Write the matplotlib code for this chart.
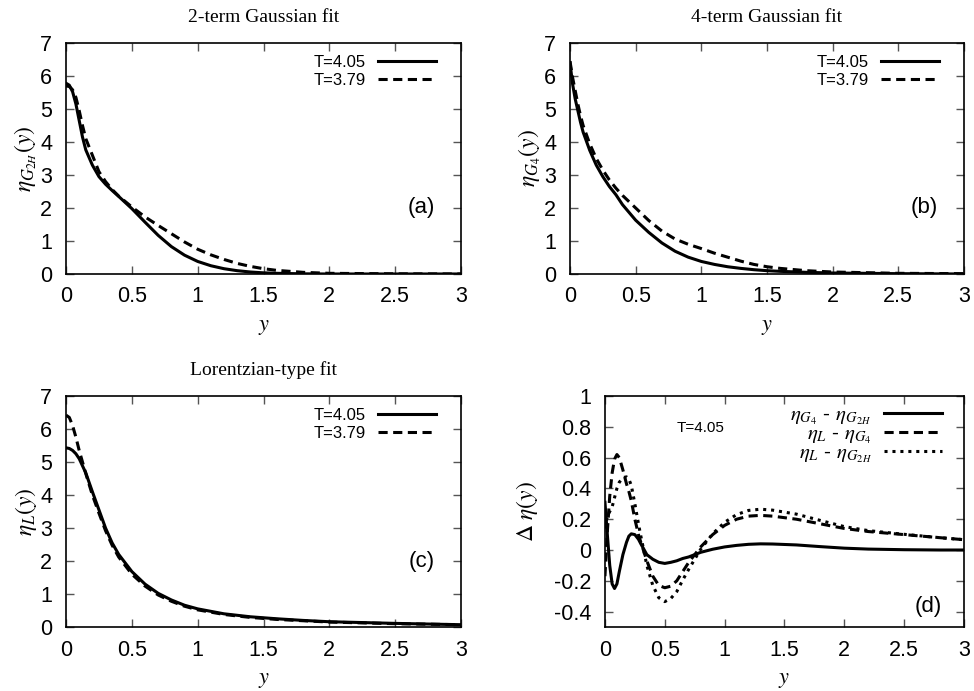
import matplotlib
matplotlib.use("Agg")
import matplotlib.pyplot as plt

plt.rcParams['font.family'] = ['Liberation Sans', 'DejaVu Sans']
plt.rcParams['mathtext.fontset'] = 'stix'
plt.rcParams['axes.unicode_minus'] = False

# x ticks shared by all panels
xticks = [0, 0.5, 1, 1.5, 2, 2.5, 3]
xticklabels = ['0', '0.5', '1', '1.5', '2', '2.5', '3']
eta_ticks = [0, 1, 2, 3, 4, 5, 6, 7]
d_ticks = [-0.4, -0.2, 0, 0.2, 0.4, 0.6, 0.8, 1]
d_ticklabels = ['-0.4', '-0.2', '0', '0.2', '0.4', '0.6', '0.8', '1']

# (a) 2-term Gaussian fit
x_a = [0, 0.025, 0.05, 0.075, 0.1, 0.125, 0.15, 0.2, 0.25, 0.3, 0.35, 0.4, 0.5, 0.6,
       0.7, 0.8, 0.9, 1.0, 1.1, 1.2, 1.3, 1.4, 1.5, 1.6, 1.8, 2.0, 2.5, 3.0]
a_405 = [5.78, 5.72, 5.52, 5.15, 4.65, 4.15, 3.76, 3.3, 2.95, 2.72, 2.53, 2.35, 1.98, 1.57,
         1.17, 0.83, 0.57, 0.38, 0.25, 0.16, 0.1, 0.06, 0.035, 0.02, 0.005, 0, 0, 0]
a_379 = [5.7, 5.68, 5.58, 5.35, 4.95, 4.5, 4.1, 3.6, 3.1, 2.8, 2.56, 2.36, 2.03, 1.73,
         1.47, 1.22, 0.97, 0.75, 0.58, 0.44, 0.32, 0.23, 0.16, 0.11, 0.05, 0.02, 0.005, 0]

# (b) 4-term Gaussian fit
x_b = [0, 0.02, 0.04, 0.06, 0.08, 0.1, 0.15, 0.2, 0.25, 0.3, 0.35, 0.4, 0.5, 0.6,
       0.7, 0.8, 0.9, 1.0, 1.1, 1.2, 1.3, 1.4, 1.5, 1.6, 1.8, 2.0, 2.5, 3.0]
b_405 = [6.4, 5.75, 5.3, 4.95, 4.6, 4.3, 3.75, 3.3, 2.95, 2.65, 2.4, 2.1, 1.63, 1.26,
         0.94, 0.69, 0.51, 0.38, 0.29, 0.22, 0.17, 0.13, 0.1, 0.08, 0.05, 0.03, 0.01, 0.0]
b_379 = [6.45, 5.95, 5.55, 5.15, 4.8, 4.5, 3.95, 3.5, 3.15, 2.85, 2.6, 2.38, 2.0, 1.62,
         1.3, 1.06, 0.9, 0.77, 0.63, 0.51, 0.39, 0.29, 0.22, 0.17, 0.1, 0.06, 0.02, 0.01]

# (c) Lorentzian-type fit
x_c = [0, 0.025, 0.05, 0.075, 0.1, 0.15, 0.2, 0.25, 0.3, 0.35, 0.4, 0.5, 0.6, 0.7,
       0.8, 0.9, 1.0, 1.2, 1.4, 1.6, 1.8, 2.0, 2.5, 3.0]
c_405 = [5.43, 5.41, 5.35, 5.25, 5.1, 4.67, 4.1, 3.55, 3.0, 2.55, 2.2, 1.68, 1.3, 1.02,
         0.82, 0.66, 0.55, 0.4, 0.31, 0.25, 0.2, 0.16, 0.11, 0.07]
c_379 = [6.42, 6.35, 6.1, 5.75, 5.35, 4.65, 4.0, 3.45, 2.92, 2.48, 2.12, 1.6, 1.24, 0.97,
         0.78, 0.63, 0.52, 0.38, 0.29, 0.23, 0.19, 0.15, 0.1, 0.07]

# (d) differences at T=4.05
x_d = [0, 0.02, 0.04, 0.06, 0.08, 0.1, 0.12, 0.15, 0.18, 0.2, 0.22, 0.25, 0.28, 0.3,
       0.35, 0.4, 0.45, 0.5, 0.55, 0.6, 0.65, 0.7, 0.75, 0.8, 0.9, 1.0, 1.1, 1.2, 1.3,
       1.4, 1.6, 1.8, 2.0, 2.2, 2.5, 2.8, 3.0]
d_g4_g2h = [0.31, 0.1, -0.1, -0.22, -0.25, -0.22, -0.14, -0.03, 0.05, 0.09, 0.105, 0.1, 0.07, 0.04,
            -0.03, -0.06, -0.08, -0.087, -0.08, -0.07, -0.055, -0.045, -0.03, -0.015, 0.005, 0.02, 0.03, 0.037, 0.04,
            0.039, 0.033, 0.022, 0.012, 0.006, 0.002, 0.0, 0.0]
d_l_g4 = [-0.17, 0.12, 0.35, 0.5, 0.59, 0.62, 0.6, 0.52, 0.43, 0.38, 0.32, 0.2, 0.1, 0.05,
          -0.07, -0.17, -0.23, -0.245, -0.235, -0.2, -0.14, -0.08, -0.03, 0.02, 0.1, 0.16, 0.2, 0.22, 0.225,
          0.22, 0.2, 0.17, 0.14, 0.12, 0.1, 0.08, 0.067]
d_l_g2h = [0.14, 0.22, 0.25, 0.28, 0.34, 0.4, 0.44, 0.47, 0.475, 0.46, 0.42, 0.3, 0.17, 0.09,
           -0.1, -0.23, -0.31, -0.335, -0.315, -0.27, -0.195, -0.125, -0.06, 0.005, 0.105, 0.18, 0.23, 0.257, 0.265,
           0.259, 0.233, 0.192, 0.152, 0.126, 0.102, 0.08, 0.067]

LW = 2.2
DASH = (0, (3, 1.8))
DOT = (0, (1, 1.6))
serif = ['Liberation Serif', 'DejaVu Serif']


def style_axes(ax, yticks, yticklabels=None):
    ax.set_xlim(0, 3)
    ax.set_xticks(xticks)
    ax.set_xticklabels(xticklabels)
    ax.set_yticks(yticks)
    if yticklabels is not None:
        ax.set_yticklabels(yticklabels)
    ax.tick_params(direction='in', top=True, right=True, length=6, width=1,
                   color='#555555', labelsize=15.5)
    ax.tick_params(axis='x', pad=9)
    ax.tick_params(axis='y', pad=10)
    for s in ax.spines.values():
        s.set_linewidth(1.2)
    ax.set_xlabel('$y$', fontsize=16, labelpad=6)


def add_legend(ax):
    return ax.legend(loc='upper right', bbox_to_anchor=(0.966, 1.0), frameon=False,
                     markerfirst=False, fontsize=12, handlelength=3.5, handletextpad=0.7,
                     labelspacing=0.2, borderaxespad=0.4, borderpad=0.3)


fig = plt.figure(figsize=(9.74, 6.91), dpi=100)

ax_a = fig.add_axes([0.0678, 0.6035, 0.4055, 0.3343])
ax_a.plot(x_a, a_405, 'k-', lw=LW, label='T=4.05')
ax_a.plot(x_a, a_379, color='k', ls=DASH, lw=LW, label='T=3.79')
ax_a.set_ylim(0, 7)
style_axes(ax_a, eta_ticks)
ax_a.set_ylabel(r'$\eta_{G_{2H}}(y)$', fontsize=17, labelpad=1)
ax_a.set_title('2-term Gaussian fit', family=serif, fontsize=14, pad=15)
ax_a.text(2.7, 2, '(a)', fontsize=16, ha='center', va='center')
add_legend(ax_a)

ax_b = fig.add_axes([0.5852, 0.6035, 0.4045, 0.3343])
ax_b.plot(x_b, b_405, 'k-', lw=LW, label='T=4.05')
ax_b.plot(x_b, b_379, color='k', ls=DASH, lw=LW, label='T=3.79')
ax_b.set_ylim(0, 7)
style_axes(ax_b, eta_ticks)
ax_b.set_ylabel(r'$\eta_{G_4}(y)$', fontsize=17, labelpad=1)
ax_b.set_title('4-term Gaussian fit', family=serif, fontsize=14, pad=15)
ax_b.text(2.7, 2, '(b)', fontsize=16, ha='center', va='center')
add_legend(ax_b)

ax_c = fig.add_axes([0.0678, 0.0926, 0.4055, 0.3343])
ax_c.plot(x_c, c_405, 'k-', lw=LW, label='T=4.05')
ax_c.plot(x_c, c_379, color='k', ls=DASH, lw=LW, label='T=3.79')
ax_c.set_ylim(0, 7)
style_axes(ax_c, eta_ticks)
ax_c.set_ylabel(r'$\eta_{L}(y)$', fontsize=17, labelpad=1)
ax_c.set_title('Lorentzian-type fit', family=serif, fontsize=14, pad=15)
ax_c.text(2.7, 2, '(c)', fontsize=16, ha='center', va='center')
add_legend(ax_c)

ax_d = fig.add_axes([0.6211, 0.0926, 0.3686, 0.3343])
ax_d.plot(x_d, d_g4_g2h, 'k-', lw=LW, label=r'$\eta_{G_4}$ - $\eta_{G_{2H}}$')
ax_d.plot(x_d, d_l_g4, color='k', ls=DASH, lw=LW, label=r'$\eta_{L}$ - $\eta_{G_4}$')
ax_d.plot(x_d, d_l_g2h, color='k', ls=DOT, lw=LW, label=r'$\eta_{L}$ - $\eta_{G_{2H}}$')
ax_d.set_ylim(-0.5, 1)
style_axes(ax_d, d_ticks, d_ticklabels)
ax_d.set_ylabel(r'$\Delta\ \eta(y)$', fontsize=17, labelpad=10)
ax_d.text(0.6, 0.79, 'T=4.05', fontsize=11, ha='left', va='center')
ax_d.text(2.7, -0.37, '(d)', fontsize=16, ha='center', va='center')
ax_d.legend(loc='upper right', bbox_to_anchor=(0.966, 1.0), frameon=False, markerfirst=False,
            fontsize=15, handlelength=3.5 * 12 / 15, handletextpad=0.6, labelspacing=-0.12,
            borderaxespad=0.25, borderpad=0.2)

fig.savefig('out.png', dpi=100)
